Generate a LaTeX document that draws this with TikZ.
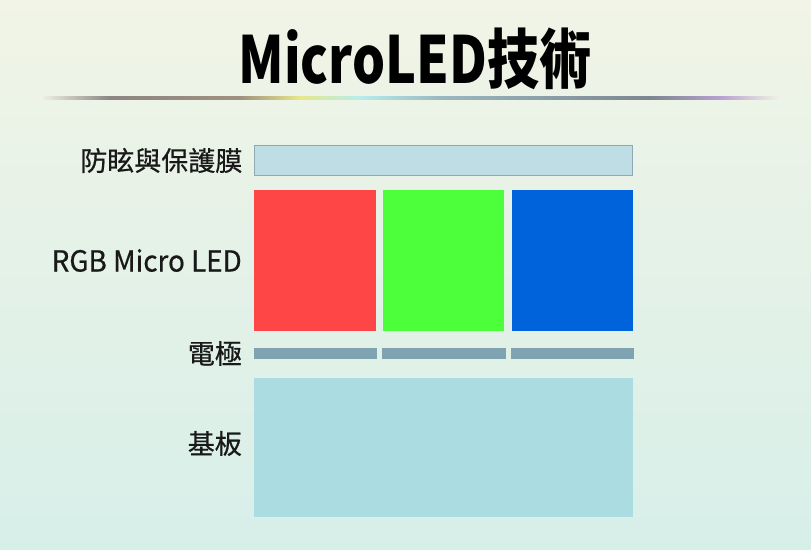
\documentclass[tikz,border=0pt]{standalone}
\usepackage{fontspec}
\setmainfont{Noto Sans CJK TC}
\newfontfamily\lblfont[FakeBold=0.6]{Noto Sans CJK TC}
\usetikzlibrary{positioning}

\definecolor{ledred}{HTML}{FF4646}
\definecolor{ledgreen}{HTML}{4DFF3B}
\definecolor{ledblue}{HTML}{0063DB}
\definecolor{filmfill}{HTML}{BEDDE4}
\definecolor{filmline}{HTML}{8FA9B2}
\definecolor{electrode}{HTML}{7FA3B1}
\definecolor{substrate}{HTML}{ABDCE2}
\definecolor{bgtop}{HTML}{F1F4E6}
\definecolor{bgbottom}{HTML}{D7EFE9}
% colours along the title rule
\definecolor{rulea}{HTML}{8C8582}
\definecolor{ruleb}{HTML}{A09080}
\definecolor{rulec}{HTML}{E6E88A}
\definecolor{ruled}{HTML}{B8ECEC}
\definecolor{rulee}{HTML}{9AB8C0}
\definecolor{rulef}{HTML}{7C8690}
\definecolor{ruleg}{HTML}{B8A0D0}

\begin{document}
\begin{tikzpicture}[x=1pt,y=-1pt,
  layer/.style={rectangle,inner sep=0pt,outer sep=0pt},
  lbl/.style={inner sep=0pt,text=black!90,font=\lblfont\fontsize{27}{27}\selectfont}]
% background
\shade[top color=bgtop,bottom color=bgbottom] (0,0) rectangle (811,549);
\useasboundingbox (0,0) rectangle (811,549);
% title and rule
\node[anchor=base,inner sep=0pt,font=\fontsize{65}{65}\selectfont\bfseries] (title) at (415,83) {\scalebox{0.8}[1]{MicroLED技術}};
\foreach \xa/\xb/\ca/\cb in {40/110/bgtop/rulea,110/240/rulea/ruleb,240/300/ruleb/rulec,
  300/360/rulec/ruled,360/440/ruled/rulee,440/650/rulee/rulef,650/720/rulef/ruleg,720/780/ruleg/bgtop}
  \shade[left color=\ca,right color=\cb] (\xa,96.5) rectangle (\xb,99);
% layers
\node[layer,fill=filmfill,draw=filmline,line width=1pt,minimum width=378pt,minimum height=30pt] (film) at (443.5,160.5) {};
\node[layer,fill=ledred,minimum width=122pt,minimum height=141pt] (red) at (315,260.5) {};
\node[layer,fill=ledgreen,minimum width=121pt,minimum height=141pt] (green) at (443.5,260.5) {};
\node[layer,fill=ledblue,minimum width=121pt,minimum height=141pt] (blue) at (572.5,260.5) {};
\node[layer,fill=electrode,minimum width=123pt,minimum height=11pt] (elA) at (315.5,353.5) {};
\node[layer,fill=electrode,minimum width=124pt,minimum height=11pt] (elB) at (444,353.5) {};
\node[layer,fill=electrode,minimum width=123pt,minimum height=11pt] (elC) at (572.5,353.5) {};
\node[layer,fill=substrate,minimum width=379pt,minimum height=139pt] (base) at (443.5,447.5) {};
% labels
\node[lbl,left=12pt of film] (filmtxt) {防眩與保護膜};
\node[lbl,left=12pt of red,font=\lblfont\fontsize{29}{29}\selectfont] (ledtxt) {\scalebox{0.96}[1]{RGB Micro LED}};
\node[lbl,left=12pt of elA] (eltxt) {電極};
\node[lbl,left=12pt of base,yshift=4pt] (basetxt) {基板};
\end{tikzpicture}
\end{document}
